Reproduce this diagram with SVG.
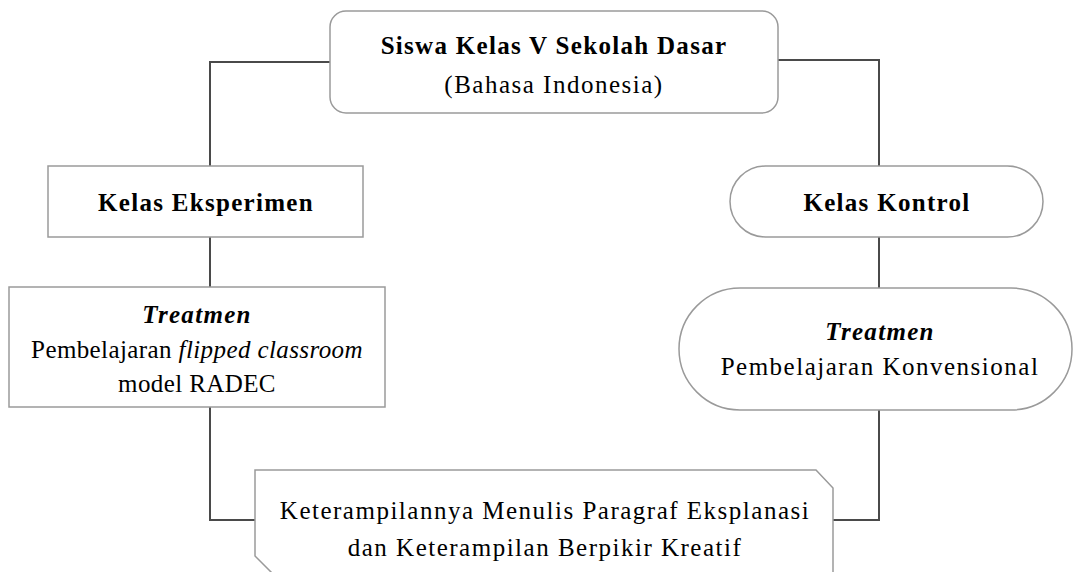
<svg xmlns="http://www.w3.org/2000/svg" width="1073" height="572" viewBox="0 0 1073 572">
<style>
.box{fill:#fff;stroke:#9a9a9a;stroke-width:1.5}
.con{fill:none;stroke:#4a4a4a;stroke-width:2}
text{font-family:"Liberation Serif","Times New Roman",serif;font-size:25px;fill:#000;text-anchor:middle;letter-spacing:1.3px}
.b{font-weight:bold}
.i{font-style:italic}
.r{letter-spacing:1.5px}
.t{letter-spacing:0.4px}
</style>
<rect width="1073" height="572" fill="#fff"/>
<g id="connectors">
<path class="con" d="M330,62 H210 V166"/>
<path class="con" d="M778,60 H879 V166"/>
<path class="con" d="M210,237 V287"/>
<path class="con" d="M879,237 V288"/>
<path class="con" d="M210,407 V520 H255"/>
<path class="con" d="M879,410 V520 H833"/>
</g>
<g id="top">
<rect class="box" x="330" y="11" width="448" height="102" rx="16"/>
<text class="b" x="554" y="54">Siswa Kelas V Sekolah Dasar</text>
<text class="r" x="554" y="93">(Bahasa Indonesia)</text>
</g>
<g id="eksperimen">
<rect class="box" x="48" y="166" width="315" height="71"/>
<text class="b" x="206" y="211">Kelas Eksperimen</text>
</g>
<g id="kontrol">
<rect class="box" x="730" y="166" width="313" height="71" rx="35.5"/>
<text class="b" x="887" y="211">Kelas Kontrol</text>
</g>
<g id="treatmen-eksperimen">
<rect class="box" x="9" y="287" width="376" height="120"/>
<text class="b i" x="197" y="323">Treatmen</text>
<text class="t" x="197" y="358">Pembelajaran <tspan class="i">flipped classroom</tspan></text>
<text class="t" x="197" y="392">model RADEC</text>
</g>
<g id="treatmen-kontrol">
<rect class="box" x="679" y="288" width="393" height="122" rx="61"/>
<text class="b i" x="880" y="340">Treatmen</text>
<text class="r" x="880" y="375">Pembelajaran Konvensional</text>
</g>
<g id="hasil">
<path class="box" d="M255,470 H816 L833,488 V590 H289 L255,556 Z"/>
<text class="r" x="545" y="519">Keterampilannya Menulis Paragraf Eksplanasi</text>
<text class="r" x="545" y="556">dan Keterampilan Berpikir Kreatif</text>
</g>
</svg>
